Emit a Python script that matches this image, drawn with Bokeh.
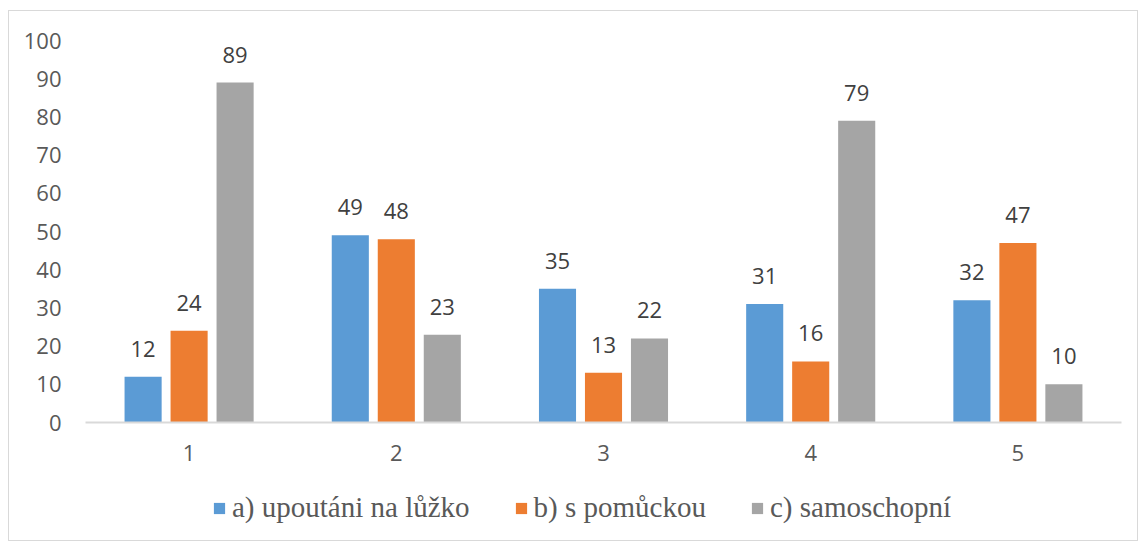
from bokeh.plotting import figure
from bokeh.layouts import column
from bokeh.models import ColumnDataSource, FactorRange, Range1d, SingleIntervalTicker, LabelSet, Legend, LegendItem
from bokeh.core.properties import value
from bokeh.transform import dodge
from bokeh.embed import file_html
from bokeh.resources import INLINE

categories = ["1", "2", "3", "4", "5"]
series_names = ["a) upoutáni na lůžko", "b) s pomůckou", "c) samoschopní"]
a_vals = [12, 49, 35, 31, 32]
b_vals = [24, 48, 13, 16, 47]
c_vals = [89, 23, 22, 79, 10]
colors = ["#5B9BD5", "#ED7D31", "#A5A5A5"]
offsets = [-0.222, 0.0, 0.222]

p = figure(x_range=FactorRange(factors=categories, range_padding=0),
           y_range=Range1d(0, 100),
           frame_width=1036, frame_height=382, output_backend="svg", toolbar_location=None,
           min_border_left=76, min_border_right=16, min_border_top=29, min_border_bottom=53)
p.outline_line_color = None
p.xgrid.grid_line_color = None
p.ygrid.grid_line_color = None

font = "Open Sans"
p.yaxis.ticker = SingleIntervalTicker(interval=10)
p.yaxis.axis_line_color = None
p.yaxis.major_tick_line_color = None
p.yaxis.minor_tick_line_color = None
p.yaxis.major_label_standoff = 18
p.xaxis.axis_line_color = "#d9d9d9"
p.xaxis.axis_line_width = 2
p.xaxis.major_tick_line_color = None
p.xaxis.minor_tick_line_color = None
p.xaxis.major_label_standoff = 16
for ax in (p.xaxis, p.yaxis):
    ax.major_label_text_font = font
    ax.major_label_text_font_size = "22px"
    ax.major_label_text_color = "#595959"

# legend strip below the chart (its bars lie outside its visible range)
p2 = figure(width=1128, height=65, x_range=FactorRange(factors=categories, range_padding=0),
            y_range=Range1d(200, 201),
            output_backend="svg", toolbar_location=None,
            min_border_left=0, min_border_right=0, min_border_top=0, min_border_bottom=0)
p2.axis.visible = False
p2.grid.visible = False
p2.outline_line_color = None

items = []
for name, vals, col, off in zip(series_names, [a_vals, b_vals, c_vals], colors, offsets):
    src = ColumnDataSource(dict(cat=categories, val=vals, lab=[str(v) for v in vals]))
    p.vbar(x=dodge("cat", off, range=p.x_range), top="val", width=0.179, source=src,
           fill_color=col, line_color=None)
    lbl = LabelSet(x=dodge("cat", off, range=p.x_range), y="val", text="lab", source=src,
                   y_offset=20, text_align="center", text_baseline="bottom",
                   text_font=value(font), text_font_size=value("22px"), text_color=value("#404040"))
    p.add_layout(lbl)
    r2 = p2.vbar(x=dodge("cat", off, range=p2.x_range), top="val", width=0.179, source=src,
                 fill_color=col, line_color=None)
    items.append(LegendItem(label=name, renderers=[r2]))

legend = Legend(items=items, orientation="horizontal", location=(127, 16),
                label_text_font="Liberation Serif", label_text_font_size="29px",
                label_text_color="#595959", glyph_width=14, glyph_height=14,
                spacing=44, label_standoff=6, border_line_color=None,
                background_fill_alpha=0, margin=0, padding=0)
p2.add_layout(legend)

layout = column(p, p2, spacing=0)
layout.styles = {"border": "1px solid #d9d9d9", "margin-left": "8px", "margin-top": "10px"}

open("out.html", "w").write(file_html(layout, INLINE))
